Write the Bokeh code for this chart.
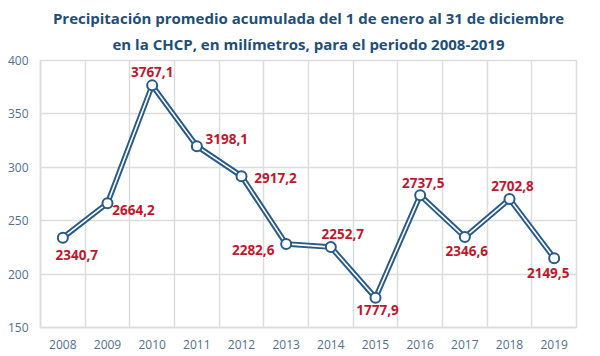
from bokeh.plotting import figure
from bokeh.models import ColumnDataSource, FixedTicker, Range1d, Title
from bokeh.core.properties import value
from bokeh.embed import file_html
from bokeh.resources import INLINE

years = ["2008", "2009", "2010", "2011", "2012", "2013", "2014", "2015", "2016", "2017", "2018", "2019"]
precip_mm = [2340.7, 2664.2, 3767.1, 3198.1, 2917.2, 2282.6, 2252.7, 1777.9, 2737.5, 2346.6, 2702.8, 2149.5]
y_ticks = [150, 200, 250, 300, 350, 400]
title_lines = ["Precipitación promedio acumulada del 1 de enero al 31 de diciembre",
               "en la CHCP, en milímetros, para el periodo 2008-2019"]

# label placement (screen pixels, +dy = down) relative to each point
label_dx = [14, 26, 0, 30, 34, -33, 12, 2, 3, 2, 3, -6]
label_dy = [17, 7, -13, -7, 2, 6, -13, 12, -12, 14, -13, 15]

xs = list(range(len(years)))
ys = [v / 10 for v in precip_mm]
labels = [f"{v:.1f}".replace(".", ",") for v in precip_mm]

src = ColumnDataSource(dict(x=xs, y=ys, lab=labels, dx=label_dx, dy=label_dy))

FONT = "Open Sans"
TITLE_COLOR = "#1f4e79"
LINE_COLOR = "#285a8a"
TICK_COLOR = "#52708f"
LABEL_COLOR = "#c0172d"
GRID_COLOR = "#dcdcdc"

p = figure(width=600, height=356, output_backend="svg", toolbar_location=None,
           x_range=Range1d(-0.5, len(years) - 0.5), y_range=Range1d(150, 400),
           min_border_left=40, min_border_right=24, min_border_bottom=29, min_border_top=0)

p.add_layout(Title(text=title_lines[1], align="center",
                   text_font=FONT, text_font_size="15px", text_font_style="bold",
                   text_color=TITLE_COLOR, standoff=14), "above")
p.add_layout(Title(text=title_lines[0], align="center",
                   text_font=FONT, text_font_size="15px", text_font_style="bold",
                   text_color=TITLE_COLOR, standoff=-6), "above")
# top spacer
p.add_layout(Title(text=" ", text_font_size="6px", standoff=0), "above")

p.background_fill_color = "white"
p.border_fill_color = "white"
p.outline_line_color = GRID_COLOR
p.outline_line_width = 1.5

p.xaxis.ticker = FixedTicker(ticks=xs)
p.xaxis.major_label_overrides = {i: y for i, y in enumerate(years)}
p.yaxis.ticker = FixedTicker(ticks=y_ticks)
for ax in (p.xaxis[0], p.yaxis[0]):
    ax.major_tick_line_color = None
    ax.minor_tick_line_color = None
    ax.axis_line_color = GRID_COLOR
    ax.axis_line_width = 1.5
    ax.major_label_text_font = FONT
    ax.major_label_text_font_size = "12px"
    ax.major_label_text_color = TICK_COLOR
p.xaxis.major_label_standoff = 6
p.yaxis.major_label_standoff = 6

p.xgrid.ticker = FixedTicker(ticks=[i + 0.5 for i in range(-1, len(years))])
p.ygrid.ticker = FixedTicker(ticks=y_ticks)
p.xgrid.grid_line_color = GRID_COLOR
p.ygrid.grid_line_color = GRID_COLOR
p.xgrid.grid_line_width = 1.5
p.ygrid.grid_line_width = 1.5

p.line("x", "y", source=src, line_color=LINE_COLOR, line_width=5.5, line_join="round")
p.line("x", "y", source=src, line_color="white", line_width=1.6, line_join="round")
p.scatter("x", "y", source=src, size=10, fill_color="white", line_color=LINE_COLOR, line_width=2)

p.text("x", "y", text="lab", source=src, x_offset="dx", y_offset="dy",
       text_font=value(FONT), text_font_size="13.5px", text_font_style="bold",
       text_color=LABEL_COLOR, text_align="center", text_baseline="middle")

open("out.html", "w").write(file_html(p, INLINE))
